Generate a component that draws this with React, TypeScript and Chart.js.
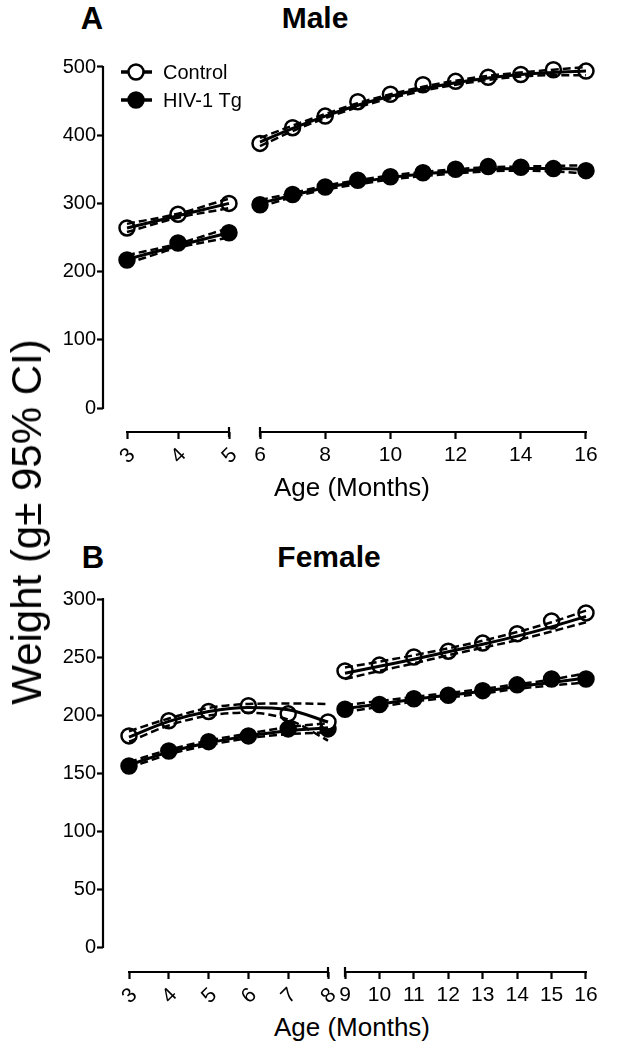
import React, { useEffect, useRef } from "react";
import { Chart, registerables } from "chart.js";

Chart.register(...registerables);

const FONT = "'Liberation Sans', Arial, Helvetica, sans-serif";

// ---------------- Data ----------------
const seriesLabels = ["Control", "HIV-1 Tg"];

// Male (panel A)
const maleEarlyMonths = [3, 4, 5];
const maleLateMonths = [6, 7, 8, 9, 10, 11, 12, 13, 14, 15, 16];
const maleEarlyTicks = [3, 4, 5];
const maleLateTicks = [6, 8, 10, 12, 14, 16];
const maleYTicks = [0, 100, 200, 300, 400, 500];

const maleControlEarly = [264, 284, 300];
const maleHivEarly = [217, 242, 257];
const maleControlEarlyFit = [264, 282, 300];
const maleControlEarlyUpper = [270, 285, 307];
const maleControlEarlyLower = [258, 279, 293];
const maleHivEarlyFit = [218, 238, 257];
const maleHivEarlyUpper = [224, 241, 264];
const maleHivEarlyLower = [212, 235, 250];

const maleControlLate = [388, 411, 428, 449, 460, 474, 479, 485, 489, 496, 494];
const maleHivLate = [298, 313, 324, 334, 339, 345, 350, 354, 353, 351, 348];
const maleControlLateFit = [390, 410, 428, 444, 457, 468, 477, 484, 489, 492, 494];
const maleControlLateUpper = [396, 414, 431, 447, 460, 471, 480, 487, 492, 496, 500];
const maleControlLateLower = [384, 406, 425, 441, 454, 465, 474, 481, 486, 488, 488];
const maleHivLateFit = [300, 312, 323, 331, 338, 343, 347, 350, 351, 351, 350];
const maleHivLateUpper = [305, 315, 326, 334, 341, 346, 350, 353, 354, 355, 356];
const maleHivLateLower = [295, 309, 320, 328, 335, 340, 344, 347, 348, 347, 344];

// Female (panel B)
const femaleEarlyMonths = [3, 4, 5, 6, 7, 8];
const femaleLateMonths = [9, 10, 11, 12, 13, 14, 15, 16];
const femaleEarlyTicks = [3, 4, 5, 6, 7, 8];
const femaleLateTicks = [9, 10, 11, 12, 13, 14, 15, 16];
const femaleYTicks = [0, 50, 100, 150, 200, 250, 300];

const femaleControlEarly = [182, 195, 203, 208, 201, 194];
const femaleHivEarly = [156, 169, 177, 182, 188, 188];
const femaleControlEarlyFit = [181, 194.5, 203, 206.5, 204.5, 194];
const femaleControlEarlyUpper = [186, 197, 206, 209.5, 210, 209.5];
const femaleControlEarlyLower = [177, 191, 199.5, 202, 196, 178];
const femaleHivEarlyFit = [157, 168, 176, 182, 186.5, 189];
const femaleHivEarlyUpper = [159.5, 170, 178, 184, 189.5, 193];
const femaleHivEarlyLower = [154.5, 166, 174, 180, 183.5, 185];

const femaleControlLate = [238, 243, 250, 255, 262, 270, 281, 288];
const femaleHivLate = [205, 209, 214, 217, 221, 226, 231, 231];
const femaleControlLateFit = [236, 242, 248, 254.5, 261, 268, 276, 285];
const femaleControlLateUpper = [241, 246, 251.5, 257.5, 264, 271.5, 280, 290];
const femaleControlLateLower = [231, 238, 244.5, 251.5, 258, 264.5, 272, 280];
const femaleHivLateFit = [205.5, 209.5, 213.5, 217, 220.5, 224.5, 228, 232];
const femaleHivLateUpper = [208.5, 212, 215.5, 219, 222.5, 226.5, 230.5, 236];
const femaleHivLateLower = [202.5, 207, 211.5, 215, 218.5, 222.5, 225.5, 228];

// ---------------- Helpers ----------------
type Series = {
  months: number[];
  control: number[];
  hiv: number[];
  cFit: number[];
  cUp: number[];
  cLo: number[];
  hFit: number[];
  hUp: number[];
  hLo: number[];
};

const MARKER_R = 7.5;

function buildDatasets(s: Series) {
  const pts = (ys: number[]) => s.months.map((m, i) => ({ x: m, y: ys[i] }));
  const line = (ys: number[], dashed: boolean) => ({
    data: pts(ys),
    borderColor: "#000",
    borderWidth: dashed ? 2.5 : 3,
    borderDash: dashed ? [8, 4] : [],
    pointRadius: 0,
    fill: false,
    showLine: true,
    cubicInterpolationMode: "monotone",
    order: 1,
    clip: false,
  });
  const markers = (ys: number[], filled: boolean, label: string) => ({
    label,
    data: pts(ys),
    showLine: false,
    pointRadius: MARKER_R,
    pointBorderWidth: 2.5,
    pointBackgroundColor: filled ? "#000" : "#fff",
    pointBorderColor: "#000",
    borderColor: "#000",
    order: 2,
    clip: false,
  });
  return [
    markers(s.control, false, seriesLabels[0]),
    markers(s.hiv, true, seriesLabels[1]),
    line(s.cFit, false),
    line(s.cUp, true),
    line(s.cLo, true),
    line(s.hFit, false),
    line(s.hUp, true),
    line(s.hLo, true),
  ];
}

const axisPlugin = {
  id: "axisLines",
  afterDraw(chart: any, _a: any, opts: any) {
    const { ctx, chartArea } = chart;
    const xs = chart.scales.x;
    const ys = chart.scales.y;
    ctx.save();
    ctx.strokeStyle = "#000";
    ctx.lineWidth = 2.2;
    const xv: number[] = opts.xTicks;
    const xa = xs.getPixelForValue(xv[0]);
    const xb = xs.getPixelForValue(xv[xv.length - 1]);
    const yb = chartArea.bottom;
    ctx.beginPath();
    ctx.moveTo(xa - 1, yb);
    ctx.lineTo(xb + 1, yb);
    const bx = opts.breakAt === "right" ? xb : xa;
    ctx.moveTo(bx, yb - 5);
    ctx.lineTo(bx, yb + 5);
    ctx.stroke();
    if (opts.yAxis) {
      const yv: number[] = opts.yTicks;
      const ya = ys.getPixelForValue(yv[0]);
      const yz = ys.getPixelForValue(yv[yv.length - 1]);
      ctx.beginPath();
      ctx.moveTo(chartArea.left, ya + 1);
      ctx.lineTo(chartArea.left, yz - 1);
      ctx.stroke();
    }
    ctx.restore();
  },
};

const legendPlugin = {
  id: "seriesLegend",
  afterDraw(chart: any, _a: any, opts: any) {
    if (!opts || !opts.show) return;
    const { ctx } = chart;
    const items = chart.data.datasets.filter((d: any) => d.label);
    items.forEach((d: any, i: number) => {
      const y = opts.y0 + i * opts.dy;
      ctx.save();
      ctx.strokeStyle = "#000";
      ctx.lineWidth = 3.5;
      ctx.beginPath();
      ctx.moveTo(opts.x0, y);
      ctx.lineTo(opts.x1, y);
      ctx.stroke();
      ctx.beginPath();
      ctx.arc(opts.xm, y, MARKER_R, 0, Math.PI * 2);
      ctx.fillStyle = d.pointBackgroundColor;
      ctx.fill();
      ctx.lineWidth = 2.5;
      ctx.stroke();
      ctx.fillStyle = "#000";
      ctx.font = `20px ${FONT}`;
      ctx.textBaseline = "middle";
      ctx.textAlign = "left";
      ctx.fillText(d.label, opts.xt, y + 1);
      ctx.restore();
    });
  },
};

type SegProps = {
  left: number;
  top: number;
  width: number;
  height: number;
  yAxisWidth: number;
  xAxisHeight: number;
  xTicks: number[];
  yTicks: number[];
  xMap: number[]; // v0, absPx0, v1, absPx1
  yMap: number[];
  rotation: number;
  breakAt: "left" | "right";
  series: Series;
  legend?: { x0: number; x1: number; xm: number; xt: number; y0: number; dy: number };
};

function range(v0: number, p0: number, v1: number, p1: number, a0: number, a1: number) {
  const k = (p1 - p0) / (v1 - v0);
  const f = (p: number) => v0 + (p - p0) / k;
  const u = f(a0);
  const w = f(a1);
  return { min: Math.min(u, w), max: Math.max(u, w) };
}

function Segment(p: SegProps) {
  const ref = useRef<HTMLCanvasElement>(null);
  useEffect(() => {
    const showY = p.yAxisWidth > 0;
    const areaL = p.yAxisWidth;
    const areaR = p.width;
    const areaT = 0;
    const areaB = p.height - p.xAxisHeight;
    const xr = range(p.xMap[0], p.xMap[1] - p.left, p.xMap[2], p.xMap[3] - p.left, areaL, areaR);
    const yr = range(p.yMap[0], p.yMap[1] - p.top, p.yMap[2], p.yMap[3] - p.top, areaT, areaB);
    const lg = p.legend
      ? {
          show: true,
          x0: p.legend.x0 - p.left,
          x1: p.legend.x1 - p.left,
          xm: p.legend.xm - p.left,
          xt: p.legend.xt - p.left,
          y0: p.legend.y0 - p.top,
          dy: p.legend.dy,
        }
      : { show: false };
    const chart = new Chart(ref.current as HTMLCanvasElement, {
      type: "line",
      data: { datasets: buildDatasets(p.series) as any },
      plugins: [axisPlugin, legendPlugin],
      options: {
        responsive: false,
        animation: false,
        events: [],
        layout: { padding: 0, autoPadding: false },
        plugins: {
          legend: { display: false },
          tooltip: { enabled: false },
          axisLines: { xTicks: p.xTicks, yTicks: p.yTicks, yAxis: showY, breakAt: p.breakAt },
          seriesLegend: lg,
        } as any,
        scales: {
          x: {
            type: "linear",
            min: xr.min,
            max: xr.max,
            border: { display: false },
            grid: {
              display: true,
              drawOnChartArea: false,
              drawTicks: true,
              tickLength: 7,
              tickWidth: 2.2,
              tickColor: "#000",
            },
            ticks: {
              color: "#000",
              font: { family: FONT, size: 21 },
              padding: 4,
              autoSkip: false,
              minRotation: p.rotation,
              maxRotation: p.rotation,
              labelOffset: p.rotation ? 5 : 0,
            },
            afterBuildTicks: (s: any) => {
              s.ticks = p.xTicks.map((v) => ({ value: v }));
            },
            afterFit: (s: any) => {
              s.height = p.xAxisHeight;
              s.paddingLeft = 0;
              s.paddingRight = 0;
            },
          },
          y: {
            type: "linear",
            display: showY,
            min: yr.min,
            max: yr.max,
            border: { display: false },
            grid: {
              display: true,
              drawOnChartArea: false,
              drawTicks: true,
              tickLength: 6,
              tickWidth: 2.2,
              tickColor: "#000",
            },
            ticks: {
              color: "#000",
              font: { family: FONT, size: 20 },
              padding: 1,
              autoSkip: false,
            },
            afterBuildTicks: (s: any) => {
              s.ticks = p.yTicks.map((v) => ({ value: v }));
            },
            afterFit: (s: any) => {
              s.width = p.yAxisWidth;
              s.paddingTop = 0;
              s.paddingBottom = 0;
            },
          },
        },
      } as any,
    });
    return () => chart.destroy();
  }, []);
  return (
    <canvas
      ref={ref}
      width={p.width}
      height={p.height}
      style={{ position: "absolute", left: p.left, top: p.top, width: p.width, height: p.height }}
    />
  );
}

const textBase: React.CSSProperties = {
  position: "absolute",
  fontFamily: FONT,
  color: "#000",
  lineHeight: 1,
  whiteSpace: "nowrap",
  transform: "translate(-50%, -50%)",
};

function Label({ x, y, size, bold, rotate, children }: any) {
  return (
    <div
      style={{
        ...textBase,
        left: x,
        top: y,
        fontSize: size,
        fontWeight: bold ? 700 : 400,
        transform: rotate ? "translate(-50%, -50%) rotate(-90deg)" : textBase.transform,
      }}
    >
      {children}
    </div>
  );
}

export default function App() {
  const maleEarly: Series = {
    months: maleEarlyMonths,
    control: maleControlEarly,
    hiv: maleHivEarly,
    cFit: maleControlEarlyFit,
    cUp: maleControlEarlyUpper,
    cLo: maleControlEarlyLower,
    hFit: maleHivEarlyFit,
    hUp: maleHivEarlyUpper,
    hLo: maleHivEarlyLower,
  };
  const maleLate: Series = {
    months: maleLateMonths,
    control: maleControlLate,
    hiv: maleHivLate,
    cFit: maleControlLateFit,
    cUp: maleControlLateUpper,
    cLo: maleControlLateLower,
    hFit: maleHivLateFit,
    hUp: maleHivLateUpper,
    hLo: maleHivLateLower,
  };
  const femaleEarly: Series = {
    months: femaleEarlyMonths,
    control: femaleControlEarly,
    hiv: femaleHivEarly,
    cFit: femaleControlEarlyFit,
    cUp: femaleControlEarlyUpper,
    cLo: femaleControlEarlyLower,
    hFit: femaleHivEarlyFit,
    hUp: femaleHivEarlyUpper,
    hLo: femaleHivEarlyLower,
  };
  const femaleLate: Series = {
    months: femaleLateMonths,
    control: femaleControlLate,
    hiv: femaleHivLate,
    cFit: femaleControlLateFit,
    cUp: femaleControlLateUpper,
    cLo: femaleControlLateLower,
    hFit: femaleHivLateFit,
    hUp: femaleHivLateUpper,
    hLo: femaleHivLateLower,
  };

  const topA = 40;
  const topB = 580;
  const h = 430;
  const xh = 38;

  return (
    <div style={{ position: "absolute", left: 0, top: 0, width: 618, height: 1050, background: "#fff", overflow: "hidden" }}>
      {/* Panel A */}
      <Segment
        left={0}
        top={topA}
        width={250}
        height={h}
        yAxisWidth={103}
        xAxisHeight={xh}
        xTicks={maleEarlyTicks}
        yTicks={maleYTicks}
        xMap={[3, 127, 5, 229]}
        yMap={[0, 408, 500, 67]}
        rotation={45}
        breakAt="right"
        series={maleEarly}
        legend={{ x0: 121, x1: 152, xm: 136, xt: 163, y0: 72, dy: 28 }}
      />
      <Segment
        left={240}
        top={topA}
        width={378}
        height={h}
        yAxisWidth={0}
        xAxisHeight={xh}
        xTicks={maleLateTicks}
        yTicks={maleYTicks}
        xMap={[6, 260, 16, 586]}
        yMap={[0, 408, 500, 67]}
        rotation={0}
        breakAt="left"
        series={maleLate}
      />
      {/* Panel B */}
      <Segment
        left={0}
        top={topB}
        width={338}
        height={h}
        yAxisWidth={103}
        xAxisHeight={xh}
        xTicks={femaleEarlyTicks}
        yTicks={femaleYTicks}
        xMap={[3, 129, 8, 328]}
        yMap={[0, 947, 300, 599]}
        rotation={45}
        breakAt="right"
        series={femaleEarly}
      />
      <Segment
        left={334}
        top={topB}
        width={284}
        height={h}
        yAxisWidth={0}
        xAxisHeight={xh}
        xTicks={femaleLateTicks}
        yTicks={femaleYTicks}
        xMap={[9, 345, 16, 586]}
        yMap={[0, 947, 300, 599]}
        rotation={0}
        breakAt="left"
        series={femaleLate}
      />

      <Label x={92} y={18} size={31} bold>A</Label>
      <Label x={315} y={18} size={30} bold>Male</Label>
      <Label x={93} y={557} size={31} bold>B</Label>
      <Label x={329} y={557} size={30} bold>Female</Label>
      <Label x={352} y={487} size={26}>Age (Months)</Label>
      <Label x={352} y={1027} size={26}>Age (Months)</Label>
      <Label x={27} y={522} size={42} rotate>Weight (g± 95% CI)</Label>
    </div>
  );
}
